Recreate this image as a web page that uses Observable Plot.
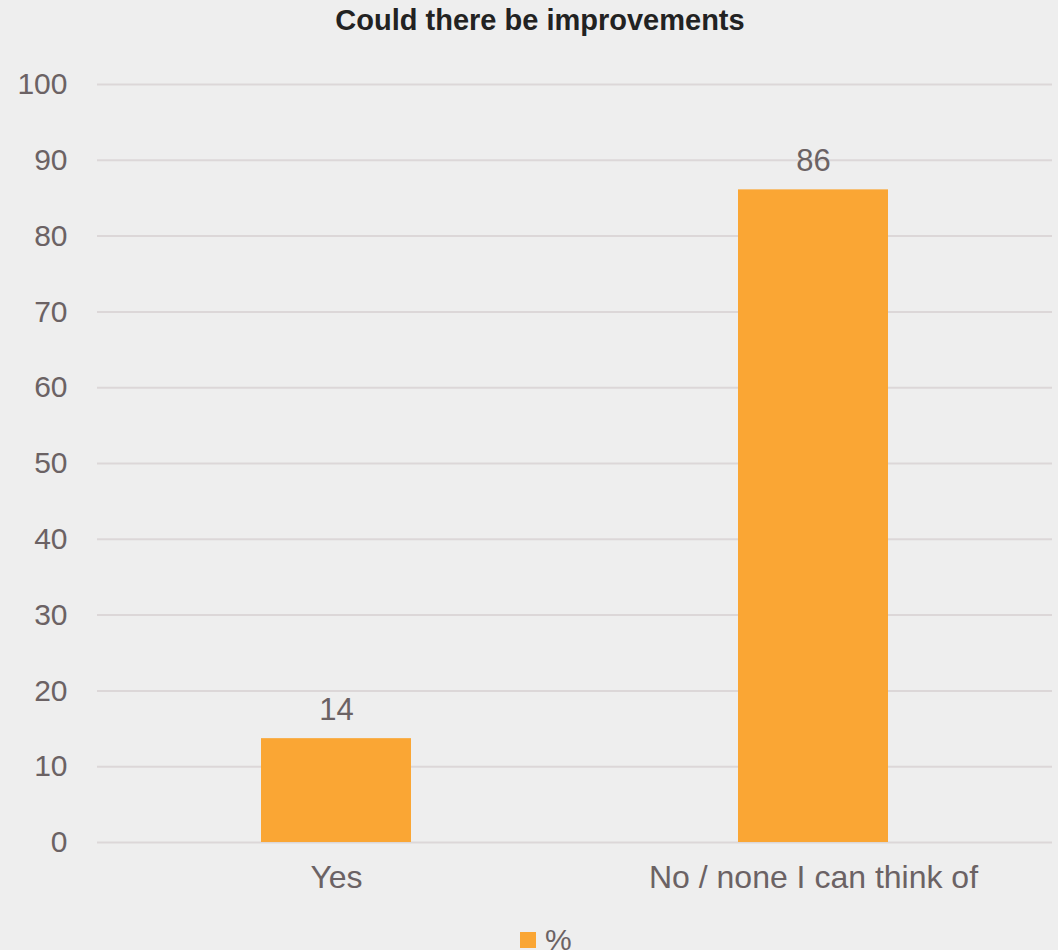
<!DOCTYPE html>
<html>
<head>
<meta charset="utf-8">
<script src="https://cdn.jsdelivr.net/npm/d3@7"></script>
<script src="https://cdn.jsdelivr.net/npm/@observablehq/plot@0.6"></script>
<style>
  html, body { margin: 0; padding: 0; background: #eeeeee; }
  body { width: 1058px; height: 950px; overflow: hidden; font-family: "Liberation Sans", Arial, sans-serif; }
  #title { height: 50px; line-height: 40px; text-align: center; font-weight: bold; font-size: 29px; color: #222; padding-left: 22px; box-sizing: border-box; }
  #legend { position: relative; height: 35px; }
  #legend .sw { position: absolute; left: 520px; top: 17px; width: 16px; height: 16px; background: #FAA634; }
  #legend .lb { position: absolute; left: 545px; top: 8px; font-size: 30px; color: #6b6264; line-height: 34px; }
</style>
</head>
<body>
<div id="title">Could there be improvements</div>
<div id="chart"></div>
<div id="legend"><div class="sw"></div><div class="lb">%</div></div>
<script>
const categories = ["Yes", "No / none I can think of"];
const values = [13.7, 86.1];
const yTicks = [0, 10, 20, 30, 40, 50, 60, 70, 80, 90, 100];
const seriesName = "%";

const data = categories.map((c, i) => ({category: c, value: values[i]}));
const textColor = "#6b6264";

const chart = Plot.plot({
  width: 1058,
  height: 865,
  marginTop: 34,
  marginBottom: 73,
  marginLeft: 97,
  marginRight: 6,
  style: {background: "transparent", fontFamily: "'Liberation Sans', Arial, sans-serif", fontSize: "30px", color: textColor, overflow: "visible"},
  x: {domain: categories, paddingInner: 0.686, paddingOuter: 0.343, label: null},
  y: {domain: [0, 100], ticks: yTicks, label: null},
  marks: [
    Plot.gridY(yTicks, {stroke: "#dcd7d8", strokeOpacity: 1, strokeWidth: 2}),
    Plot.barY(data, {x: "category", y: "value", fill: "#FAA634"}),
    Plot.text(data, {x: "category", y: "value", text: d => Math.round(d.value).toString(), lineAnchor: "bottom", dy: -19, fontSize: 31, fill: textColor}),
    Plot.axisY(yTicks, {tickSize: 0, tickPadding: 30, fontSize: 30, fill: textColor, label: null}),
    Plot.axisX({tickSize: 0, tickPadding: 23, fontSize: 32, fill: textColor, label: null})
  ]
});
document.getElementById("chart").appendChild(chart);
</script>
</body>
</html>
